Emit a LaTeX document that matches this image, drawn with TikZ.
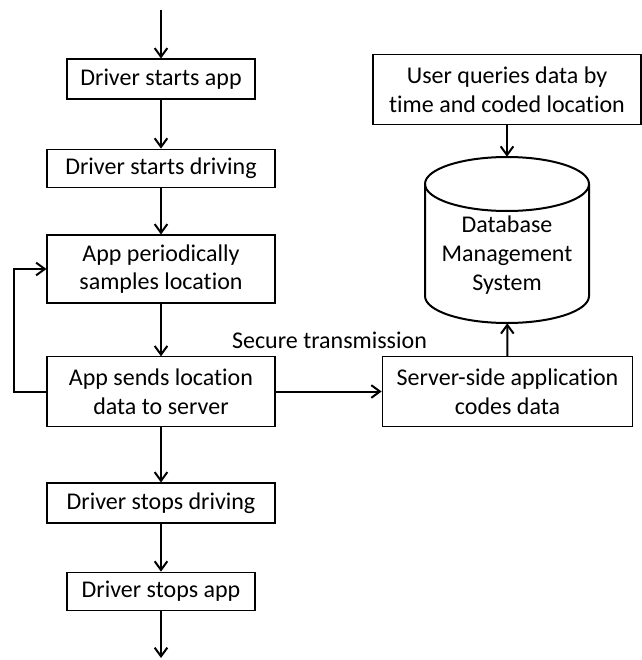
\documentclass[tikz,border=0pt]{standalone}
\usepackage{fontspec}
\setmainfont{Carlito}[Ligatures=NoCommon]
\usetikzlibrary{calc, arrows.meta, positioning}

\begin{document}
\begin{tikzpicture}[x=0.75pt, y=-0.75pt,
    stepbox/.style={draw, line width=0.8pt, align=center, inner sep=0pt,
        font=\fontsize{18}{21.5}\selectfont},
    flow/.style={line width=1.5pt, -{Straight Barb[length=6.5pt, width=9.5pt]}}]

\useasboundingbox (0,0) rectangle (642,660);

\coordinate (cTopPt) at (161,10);
\coordinate (cEndPt) at (161,658);

\node[stepbox, minimum width=141pt, minimum height=30pt] (nStartApp) at (161,79) {Driver starts app};
\node[stepbox, minimum width=171pt, minimum height=29pt] (nStartDrive) at (161,168.5) {Driver starts driving};
\node[stepbox, minimum width=171pt, minimum height=51pt] (nSamples) at (161,269) {App periodically\\samples location};
\node[stepbox, minimum width=171pt, minimum height=52pt] (nSends) at (161,391.5) {App sends location\\data to server};
\node[stepbox, minimum width=171pt, minimum height=30pt] (nStopDrive) at (161,503) {Driver stops driving};
\node[stepbox, minimum width=141pt, minimum height=29pt] (nStopApp) at (161,591.5) {Driver stops app};
\node[stepbox, minimum width=201pt, minimum height=52pt] (nQuery) at (507,89.5) {User queries data by\\time and coded location};
\node[stepbox, minimum width=188pt, minimum height=52pt] (nServer) at (507.5,391.5) {Server-side application\\codes data};

% database cylinder
\node[minimum width=123pt, minimum height=124.5pt, inner sep=0pt] (nDbms) at (507,240) {};
\draw[line width=1.5pt] (507,184) ellipse [x radius=61.5pt, y radius=20.25pt];
\draw[line width=1.5pt] (425,184) -- (425,296)
    arc[start angle=180, end angle=360, x radius=61.5pt, y radius=20.25pt] -- (589,184);
\node[align=center, font=\fontsize{18}{21.5}\selectfont] (nDbmsText) at (507,255)
    {Database\\Management\\System};

\foreach \a/\b in {cTopPt/nStartApp, nStartApp/nStartDrive, nStartDrive/nSamples,
    nSamples/nSends, nSends/nStopDrive, nStopDrive/nStopApp, nStopApp/cEndPt,
    nQuery/nDbms, nServer/nDbms}
{
    \draw[flow] (\a) -- (\b);
};

\draw[flow] (nSends.west) -- ++(-32,0) |- (nSamples.west);
\draw[flow] (nSends.east) -- (nServer.west);
\node[font=\fontsize{18}{21.5}\selectfont] (nSecure) at (329.5,340) {Secure transmission};

\end{tikzpicture}
\end{document}
